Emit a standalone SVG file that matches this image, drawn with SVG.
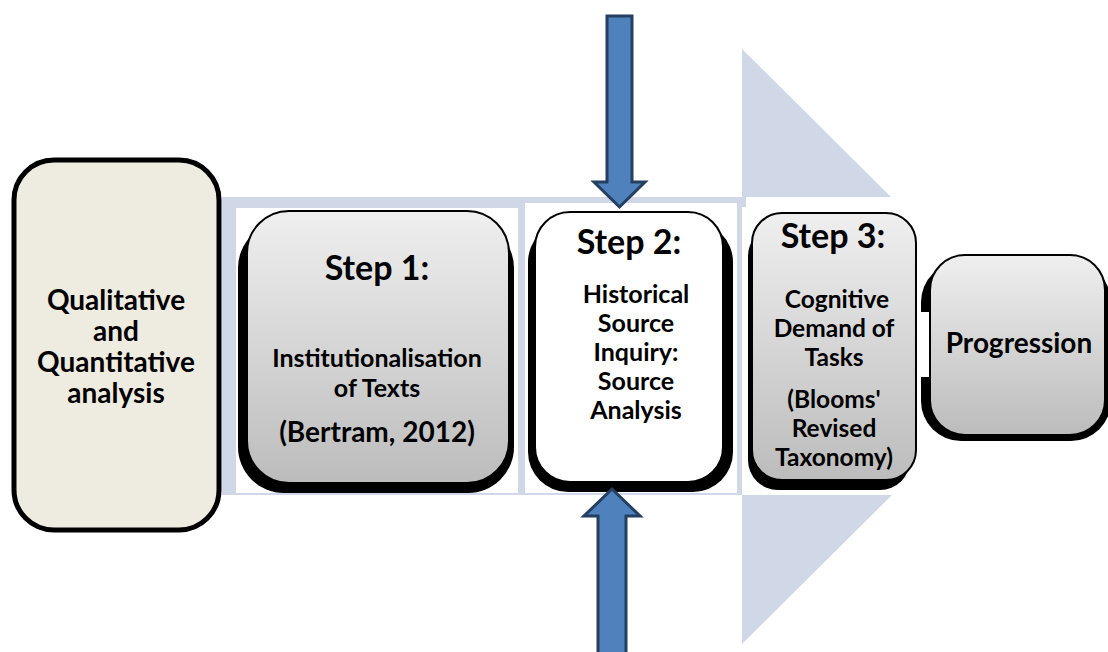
<svg xmlns="http://www.w3.org/2000/svg" width="1108" height="652" viewBox="0 0 1108 652">
<defs>
<linearGradient id="gray" x1="0" y1="0" x2="0" y2="1">
<stop offset="0" stop-color="#efefef"/>
<stop offset="1" stop-color="#bcbcbc"/>
</linearGradient>
<style>
.t{font-family:Lato,"Liberation Sans",sans-serif;font-weight:bold;fill:#000;text-anchor:middle}
.band{fill:#d0d8e8}
.shadow{fill:#000}
.box{stroke:#000;stroke-width:2}
.blue{fill:#4f81bd;stroke:#243f60;stroke-width:3;stroke-linejoin:miter}
</style>
</defs>
<rect width="1108" height="652" fill="#fff"/>
<g id="background-arrow">
<rect class="band" x="222" y="197" width="520" height="298"/>
<polygon class="band" points="742,49 891,197 742,197"/>
<polygon class="band" points="742,495 892,495 742,644"/>
<rect class="band" x="742" y="197" width="4" height="10"/>
<rect fill="#fff" x="236" y="208" width="282" height="285"/>
<rect fill="#fff" x="525" y="203" width="212" height="290"/>
</g>
<g id="node-analysis">
<rect x="14" y="160" width="205" height="370" rx="40" fill="#eeece1" stroke="#000" stroke-width="5"/>
<text class="t" font-size="28" x="116" y="310">Qualitative</text>
<text class="t" font-size="28" x="116" y="341">and</text>
<text class="t" font-size="28" x="116" y="372">Quantitative</text>
<text class="t" font-size="28" x="116" y="403">analysis</text>
</g>
<g id="node-step1">
<rect class="shadow" x="238" y="222" width="276" height="271" rx="46"/>
<rect class="box" x="247" y="211" width="262" height="272" rx="42" fill="url(#gray)"/>
<text class="t" font-size="34" x="377" y="280">Step 1:</text>
<text class="t" font-size="25" x="377" y="367">Institutionalisation</text>
<text class="t" font-size="25" x="377" y="397">of Texts</text>
<text class="t" font-size="28" x="377" y="442">(Bertram, 2012)</text>
</g>
<g id="node-step2">
<rect class="shadow" x="528" y="222" width="205" height="270" rx="40"/>
<rect class="box" x="535" y="212" width="188" height="270" rx="35" fill="#fff"/>
<text class="t" font-size="34" x="629" y="254">Step 2:</text>
<text class="t" font-size="25" x="636" y="303">Historical</text>
<text class="t" font-size="25" x="636" y="332">Source</text>
<text class="t" font-size="25" x="636" y="361">Inquiry:</text>
<text class="t" font-size="25" x="636" y="390">Source</text>
<text class="t" font-size="25" x="636" y="419">Analysis</text>
</g>
<g id="node-step3">
<rect class="shadow" x="748" y="226" width="162" height="264" rx="30"/>
<rect class="box" x="752" y="213" width="164" height="267" rx="30" fill="url(#gray)"/>
<text class="t" font-size="34" x="833" y="248">Step 3:</text>
<text class="t" font-size="24.5" x="837" y="308">Cognitive</text>
<text class="t" font-size="24.5" x="834" y="337">Demand of</text>
<text class="t" font-size="24.5" x="834" y="366">Tasks</text>
<text class="t" font-size="24.5" x="834" y="408">(Blooms'</text>
<text class="t" font-size="24.5" x="834" y="437">Revised</text>
<text class="t" font-size="24.5" x="834" y="466">Taxonomy)</text>
</g>
<g id="node-progression">
<rect class="shadow" x="921" y="262" width="190" height="179" rx="40"/>
<rect fill="#fff" x="919" y="312" width="10" height="65"/>
<rect class="box" x="930" y="255" width="175" height="180" rx="35" fill="url(#gray)"/>
<text class="t" font-size="28" x="1019" y="353">Progression</text>
</g>
<g id="connectors">
<polygon class="blue" points="607,16 632,16 632,182 645,182 619.5,207 594,182 607,182"/>
<polygon class="blue" points="612,489 640,516 626,516 626,660 598,660 598,516 584,516"/>
</g>
</svg>
